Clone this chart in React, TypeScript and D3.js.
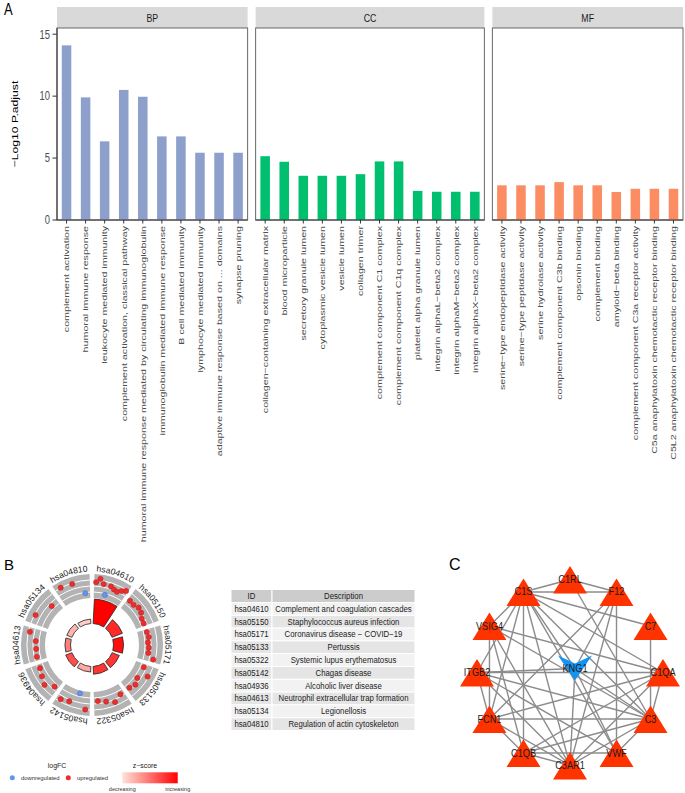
import React from "react";
import * as d3 from "d3";

const FONT = "'Liberation Sans', Arial, Helvetica, sans-serif";

// ---------- Panel A data ----------
const ontologies = ["BP", "CC", "MF"];
const ontologyColors = ["#8DA0CB", "#00BF6E", "#FC8D62"];
const bpTerms = [
  "complement activation",
  "humoral immune response",
  "leukocyte mediated immunity",
  "complement activation, classical pathway",
  "humoral immune response mediated by circulating immunoglobulin",
  "immunoglobulin mediated immune response",
  "B cell mediated immunity",
  "lymphocyte mediated immunity",
  "adaptive immune response based on ... domains",
  "synapse pruning",
];
const bpValues = [14.1, 9.9, 6.35, 10.5, 9.95, 6.75, 6.75, 5.43, 5.43, 5.43];
const ccTerms = [
  "collagen\u2212containing extracellular matrix",
  "blood microparticle",
  "secretory granule lumen",
  "cytoplasmic vesicle lumen",
  "vesicle lumen",
  "collagen trimer",
  "complement component C1 complex",
  "complement component C1q complex",
  "platelet alpha granule lumen",
  "integrin alphaL\u2212beta2 complex",
  "integrin alphaM\u2212beta2 complex",
  "integrin alphaX\u2212beta2 complex",
];
const ccValues = [5.15, 4.7, 3.57, 3.57, 3.57, 3.7, 4.73, 4.73, 2.35, 2.28, 2.28, 2.28];
const mfTerms = [
  "serine\u2212type endopeptidase activity",
  "serine\u2212type peptidase activity",
  "serine hydrolase activity",
  "complement component C3b binding",
  "opsonin binding",
  "complement binding",
  "amyloid\u2212beta binding",
  "complement component C3a receptor activity",
  "C5a anaphylatoxin chemotactic receptor binding",
  "C5L2 anaphylatoxin chemotactic receptor binding",
];
const mfValues = [2.8, 2.8, 2.8, 3.06, 2.8, 2.8, 2.26, 2.52, 2.52, 2.52];
const yTicks = [0, 5, 10, 15];
const yTitle = "\u2212Log10 P.adjust";

// ---------- Panel B data ----------
const keggIds = ["hsa04610", "hsa05150", "hsa05171", "hsa05133", "hsa05322", "hsa05142", "hsa04936", "hsa04613", "hsa05134", "hsa04810"];
const keggDescriptions = [
  "Complement and coagulation cascades",
  "Staphylococcus aureus infection",
  "Coronavirus disease \u2212 COVID\u221219",
  "Pertussis",
  "Systemic lupus erythematosus",
  "Chagas disease",
  "Alcoholic liver disease",
  "Neutrophil extracellular trap formation",
  "Legionellosis",
  "Regulation of actin cytoskeleton",
];
const keggCounts = [22, 10, 9, 7, 7, 5, 6, 5, 5, 4];
const keggZscores = [3.2, 2.6, 3.0, 2.45, 2.45, 0.8, 2.1, 1.4, 0.65, 0.3];
const keggGeneLogFC = [
  [1.6, 2.4, 1.4, -0.8, 1.3, 0.9, 0.7, 1.3, 1.8],
  [0.6, 0.5, 0.9, 0.7, 0.2, 0.1],
  [0.2, 0.4, 0.1, 0.3, 0.3, 1.6],
  [0.2, 1.8, 0.1, 0.7, 0.3],
  [0.3, 1.3, 0.6, 0.2],
  [2.0, -1.2, 1.1, 1.5],
  [0.1, 1.4, 0.75, 0.3],
  [0.2, 0.1, 0.2, 1.7],
  [1.8, 0.1],
  [2.1, 1.85, -0.7],
];
const tableHeader = ["ID", "Description"];

// ---------- Panel C data ----------
const ringGenes = ["C1RL", "F12", "C7", "C1QA", "C3", "VWF", "C3AR1", "C1QB", "FCN1", "ITGB2", "VSIG4", "C1S"];
const hubGene = "KNG1";
const ppiEdges: [string, string][] = [
  ["C1S", "C1RL"], ["C1S", "F12"], ["C1S", "C7"], ["C1S", "VSIG4"], ["C1S", "C1QA"], ["C1S", "C3"],
  ["C1S", "C1QB"], ["C1S", "C3AR1"], ["C1S", "FCN1"], ["C1S", "KNG1"], ["C1S", "VWF"], ["C1S", "ITGB2"],
  ["C1RL", "F12"], ["C1RL", "C3"],
  ["F12", "VWF"], ["F12", "KNG1"], ["F12", "FCN1"], ["F12", "C3AR1"],
  ["C7", "C3"],
  ["VSIG4", "FCN1"], ["VSIG4", "C3"], ["VSIG4", "C1QA"], ["VSIG4", "C1QB"], ["VSIG4", "C3AR1"],
  ["ITGB2", "C1QA"], ["ITGB2", "C3"], ["ITGB2", "FCN1"], ["ITGB2", "C3AR1"], ["ITGB2", "VWF"], ["ITGB2", "KNG1"],
  ["C1QA", "C1QB"], ["C1QA", "C3"], ["C1QA", "C3AR1"], ["C1QA", "FCN1"],
  ["FCN1", "C3"], ["FCN1", "C3AR1"], ["FCN1", "C1QB"],
  ["C3", "C1QB"], ["C3", "C3AR1"], ["C3", "VWF"], ["C3", "KNG1"],
  ["C1QB", "VWF"], ["C1QB", "C3AR1"],
  ["C3AR1", "KNG1"], ["VWF", "KNG1"],
];

const deg = Math.PI / 180;

function PanelA() {
  const groups = [
    { name: ontologies[0], terms: bpTerms, values: bpValues, color: ontologyColors[0] },
    { name: ontologies[1], terms: ccTerms, values: ccValues, color: ontologyColors[1] },
    { name: ontologies[2], terms: mfTerms, values: mfValues, color: ontologyColors[2] },
  ];
  const left = 57, right = 683, gap = 8, stripTop = 7, top = 28, bottom = 220;
  const k = 1.32;
  const nTotal = d3.sum(groups, (g) => g.terms.length);
  const unit = (right - left - gap * (groups.length - 1)) / nTotal;
  let cursor = left;
  const panels = groups.map((g) => {
    const w = unit * g.terms.length;
    const p = { ...g, x0: cursor, x1: cursor + w };
    cursor += w + gap;
    return p;
  });
  const y = d3.scaleLinear().domain([0, 15.5]).range([bottom, top]);
  return (
    <g fontFamily={FONT}>
      <text transform={`translate(4,14.5) scale(1,1.2)`} fontSize={13} fill="#000">A</text>
      {yTicks.map((t) => (
        <g key={t}>
          <line x1={left - 4.5} x2={left} y1={y(t)} y2={y(t)} stroke="#333" strokeWidth={1} />
          <text transform={`translate(${left - 7},${y(t)}) scale(1,${k})`} dy="0.35em" textAnchor="end" fontSize={9.4} fill="#4D4D4D">{t}</text>
        </g>
      ))}
      <text transform={`translate(18,${(top + bottom) / 2}) scale(1,${k}) rotate(-90)`} textAnchor="middle" fontSize={9.2} fill="#000">{yTitle}</text>
      {panels.map((p) => {
        const x = d3.scaleBand<string>().domain(p.terms).range([p.x0, p.x1]).paddingInner(0.5).paddingOuter(0.25);
        return (
          <g key={p.name}>
            <rect x={p.x0} y={stripTop} width={p.x1 - p.x0} height={top - stripTop} fill="#D9D9D9" />
            <text transform={`translate(${(p.x0 + p.x1) / 2},${(stripTop + top) / 2}) scale(1,${k})`} dy="0.35em" textAnchor="middle" fontSize={8.8} fill="#1A1A1A">{p.name}</text>
            <rect x={p.x0} y={top} width={p.x1 - p.x0} height={bottom - top} fill="#fff" stroke="#666" strokeWidth={1} />
            {p.terms.map((t, i) => (
              <rect key={t} x={x(t)} y={y(p.values[i])} width={x.bandwidth()} height={y(0) - y(p.values[i])} fill={p.color} />
            ))}
            <line x1={p.x0} x2={p.x1} y1={bottom} y2={bottom} stroke="#333" strokeWidth={1} />
            {p.terms.map((t) => {
              const cx = (x(t) as number) + x.bandwidth() / 2;
              return (
                <g key={t}>
                  <line x1={cx} x2={cx} y1={bottom} y2={bottom + 3.5} stroke="#333" strokeWidth={1} />
                  <text transform={`translate(${cx},${bottom + 6}) scale(1,${k}) rotate(-90)`} dy="0.35em" textAnchor="end" fontSize={8.1} fill="#4D4D4D">{t}</text>
                </g>
              );
            })}
          </g>
        );
      })}
      <line x1={left} x2={left} y1={top} y2={bottom} stroke="#333" strokeWidth={1} />
    </g>
  );
}

function PanelB() {
  const cx = 92, cy = 645;
  const rHole = 21.5, rBarMax = 46, rGray0 = 47, rGray1 = 71, rLabel = 73.5;
  const n = keggIds.length;
  const step = 360 / n;
  const countScale = d3.scaleLinear().domain([0, d3.max(keggCounts) as number]).range([rHole, rBarMax]);
  const zColor = d3.scaleLinear<string>().domain([0, 3.2]).range(["#FDE3DA", "#FF0000"]).interpolate(d3.interpolateRgb);
  const lfcScale = d3.scaleLinear().domain([-1.5, 3]).range([48.5, 69.5]);
  const arc = d3.arc<any>();
  return (
    <g fontFamily={FONT} transform={`translate(${cx},${cy})`}>
      <defs>
        {keggIds.map((id, i) => {
          const a0 = (i * step + 1.5) * deg, a1 = ((i + 1) * step - 1.5) * deg;
          const p0 = [rLabel * Math.sin(a0), -rLabel * Math.cos(a0)];
          const p1 = [rLabel * Math.sin(a1), -rLabel * Math.cos(a1)];
          return <path key={id} id={`lab-${id}`} d={`M${p0[0]},${p0[1]} A${rLabel},${rLabel} 0 0 1 ${p1[0]},${p1[1]}`} fill="none" />;
        })}
        <linearGradient id="zgrad" x1="0" x2="1" y1="0" y2="0">
          <stop offset="0" stopColor="#FDE3DA" />
          <stop offset="1" stopColor="#FF0000" />
        </linearGradient>
      </defs>
      {keggIds.map((id, i) => {
        const a0 = (i * step + 2) * deg, a1 = ((i + 1) * step - 2) * deg;
        const genes = keggGeneLogFC[i];
        return (
          <g key={id}>
            <path d={arc({ innerRadius: rGray0, outerRadius: rGray1, startAngle: a0, endAngle: a1 }) as string} fill="#B3B3B3" />
            {[1, 2, 3].map((j) => {
              const r = rGray0 + ((rGray1 - rGray0) * j) / 4;
              return (
                <path key={j} d={`M${r * Math.sin(a0)},${-r * Math.cos(a0)} A${r},${r} 0 0 1 ${r * Math.sin(a1)},${-r * Math.cos(a1)}`} fill="none" stroke="#fff" strokeWidth={1} />
              );
            })}
            <path
              d={arc({ innerRadius: rHole, outerRadius: countScale(keggCounts[i]), startAngle: (i * step + 3) * deg, endAngle: ((i + 1) * step - 3) * deg }) as string}
              fill={zColor(keggZscores[i])}
              stroke="#222"
              strokeWidth={0.8}
            />
            {genes.map((v, j) => {
              const a = a0 + ((a1 - a0) * (j + 0.5)) / genes.length;
              const r = lfcScale(v);
              return (
                <circle key={j} cx={r * Math.sin(a)} cy={-r * Math.cos(a)} r={2.6} fill={v < 0 ? "#6495ED" : "#EE2C2C"} stroke={v < 0 ? "#4A6FB5" : "#B22222"} strokeWidth={0.5} />
              );
            })}
            <text fontSize={8.6} fill="#1A1A1A">
              <textPath href={`#lab-${id}`} startOffset="50%" textAnchor="middle">{id}</textPath>
            </text>
          </g>
        );
      })}
      <g transform={`translate(${-cx},${-cy})`}>
        <text x={4} y={570} fontSize={15} fill="#000">B</text>
        <text x={57} y={768} textAnchor="middle" fontSize={6.9} fill="#1A1A1A">logFC</text>
        <circle cx={12.3} cy={777.7} r={2.5} fill="#6495ED" />
        <text x={21} y={777.7} dy="0.35em" fontSize={5.9} fill="#333">downregulated</text>
        <circle cx={68.3} cy={777.7} r={2.5} fill="#EE2C2C" />
        <text x={77} y={777.7} dy="0.35em" fontSize={5.9} fill="#333">upregulated</text>
        <text x={145} y={768} textAnchor="middle" fontSize={6.9} fill="#1A1A1A">z{"\u2212"}score</text>
        <rect x={122.3} y={772.3} width={55.4} height={11} fill="url(#zgrad)" />
        <text x={122.3} y={791} textAnchor="middle" fontSize={5.5} fill="#333">decreasing</text>
        <text x={177.7} y={791} textAnchor="middle" fontSize={5.5} fill="#333">increasing</text>
      </g>
    </g>
  );
}

function TableB() {
  const x0 = 231, xSplit = 272, x1 = 415, top = 589.5, headH = 13, rowH = 12.8;
  const kt = 1.08;
  const rows = d3.range(keggIds.length);
  const T = (x: number, yy: number, s: string) => (
    <text transform={`translate(${x},${yy}) scale(1,${kt})`} dy="0.35em" textAnchor="middle" fill="#222">{s}</text>
  );
  return (
    <g fontFamily={FONT} fontSize={7.8}>
      <rect x={x0} y={top} width={xSplit - x0} height={headH} fill="#CCCCCC" stroke="#fff" strokeWidth={1} />
      <rect x={xSplit} y={top} width={x1 - xSplit} height={headH} fill="#CCCCCC" stroke="#fff" strokeWidth={1} />
      {T((x0 + xSplit) / 2, top + headH / 2, tableHeader[0])}
      {T((xSplit + x1) / 2, top + headH / 2, tableHeader[1])}
      {rows.map((i) => {
        const yy = top + headH + i * rowH;
        const fill = i % 2 === 0 ? "#F2F2F2" : "#E5E5E5";
        return (
          <g key={i}>
            <rect x={x0} y={yy} width={xSplit - x0} height={rowH} fill={fill} stroke="#fff" strokeWidth={1} />
            <rect x={xSplit} y={yy} width={x1 - xSplit} height={rowH} fill={fill} stroke="#fff" strokeWidth={1} />
            {T((x0 + xSplit) / 2, yy + rowH / 2, keggIds[i])}
            {T((xSplit + x1) / 2, yy + rowH / 2, keggDescriptions[i])}
          </g>
        );
      })}
    </g>
  );
}

function PanelC() {
  const cx = 570, cy = 672.5, R = 93;
  const pos: Record<string, [number, number]> = {};
  const angle = d3.scaleLinear().domain([0, ringGenes.length]).range([0, 2 * Math.PI]);
  ringGenes.forEach((g, i) => {
    pos[g] = [cx + R * Math.sin(angle(i)), cy - R * Math.cos(angle(i))];
  });
  pos[hubGene] = [cx + 5, cy - 4];
  const triW = 34, triUp = 13.5, triDown = 14;
  const kc = 1.09;
  return (
    <g fontFamily={FONT}>
      <text x={449} y={569.5} fontSize={16} fill="#000">C</text>
      {ppiEdges.map(([a, b], i) => (
        <line key={i} x1={pos[a][0]} y1={pos[a][1]} x2={pos[b][0]} y2={pos[b][1]} stroke="#8C8C8C" strokeWidth={1.4} />
      ))}
      {ringGenes.map((g) => {
        const [x, y] = pos[g];
        return (
          <g key={g}>
            <path d={`M${x},${y - triUp} L${x + triW / 2},${y + triDown} L${x - triW / 2},${y + triDown} Z`} fill="#FF3300" />
            <text transform={`translate(${x},${y}) scale(1,${kc})`} dy="0.35em" textAnchor="middle" fontSize={9.2} fill="#1A1A1A">{g}</text>
          </g>
        );
      })}
      {(() => {
        const [x, y] = pos[hubGene];
        return (
          <g>
            <path d={`M${x - 17},${y - 13} L${x},${y - 5} L${x + 17},${y - 13} L${x},${y + 12} Z`} fill="#1593F0" />
            <text transform={`translate(${x},${y}) scale(1,${kc})`} dy="0.35em" textAnchor="middle" fontSize={9.2} fill="#1A1A1A">{hubGene}</text>
          </g>
        );
      })()}
    </g>
  );
}

export default function App() {
  return (
    <svg width={685} height={793} style={{ position: "absolute", left: 0, top: 0, background: "#fff" }}>
      <rect width={685} height={793} fill="#fff" />
      <PanelA />
      <PanelB />
      <TableB />
      <PanelC />
    </svg>
  );
}
